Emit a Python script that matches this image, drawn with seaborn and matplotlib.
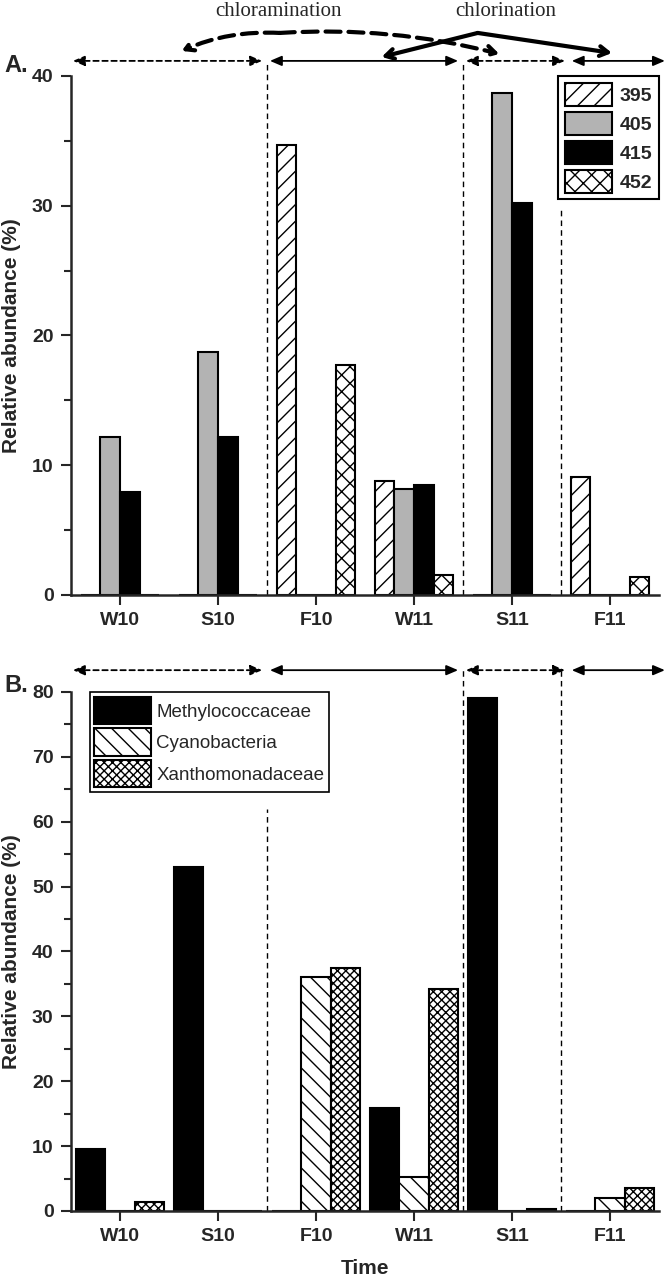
import numpy as np
import pandas as pd
import matplotlib
matplotlib.use("Agg")
import matplotlib.pyplot as plt
import matplotlib.transforms as mtransforms
from matplotlib.patches import Patch
from matplotlib.ticker import MultipleLocator
import seaborn as sns

# ---- data ----
times = ["W10", "S10", "F10", "W11", "S11", "F11"]

a_series = ["395", "405", "415", "452"]
a_395 = [0, 0, 34.7, 8.8, 0, 9.1]
a_405 = [12.2, 18.7, 0, 8.2, 38.7, 0]
a_415 = [7.9, 12.2, 0, 8.5, 30.2, 0]
a_452 = [0, 0, 17.7, 1.5, 0, 1.4]

b_series = ["Methylococcaceae", "Cyanobacteria", "Xanthomonadaceae"]
b_methylo = [9.6, 53.0, 0, 15.9, 79.0, 0]
b_cyano = [0, 0, 36.0, 5.2, 0, 2.0]
b_xantho = [1.4, 0, 37.5, 34.2, 0.3, 3.5]

a_colors = {"395": "white", "405": "#b3b3b3", "415": "black", "452": "white"}
a_hatches = ["//", "", "", "xx"]
b_colors = {"Methylococcaceae": "black", "Cyanobacteria": "white", "Xanthomonadaceae": "white"}
b_hatches = ["", "\\\\", "xxxx"]

df_a = pd.DataFrame({
    "time": times * 4,
    "series": np.repeat(a_series, len(times)),
    "value": a_395 + a_405 + a_415 + a_452,
})
df_b = pd.DataFrame({
    "time": times * 3,
    "series": np.repeat(b_series, len(times)),
    "value": b_methylo + b_cyano + b_xantho,
})

sns.set_style("ticks")
plt.rcParams["font.family"] = ["Liberation Sans", "DejaVu Sans"]
plt.rcParams["hatch.linewidth"] = 1.0

fig = plt.figure(figsize=(6.66, 12.85), dpi=100)
ax_a = fig.add_axes([0.1066, 0.5370, 0.8829, 0.4039])
ax_b = fig.add_axes([0.1066, 0.0576, 0.8829, 0.4039])


def draw_bars(ax, df, order, colors, hatches, width):
    sns.barplot(data=df, x="time", y="value", hue="series", order=times,
                hue_order=order, palette=colors, edgecolor="black",
                linewidth=1.5, width=width, errorbar=None, legend=False, ax=ax)
    for cont, h in zip(ax.containers, hatches):
        for bar in cont:
            bar.set_hatch(h)


def style_axis(ax, top, step):
    ax.set_xlim(-0.5, 5.5)
    ax.set_ylim(0, top)
    ax.yaxis.set_major_locator(MultipleLocator(step))
    ax.yaxis.set_minor_locator(MultipleLocator(step / 2))
    for s in ["top", "right"]:
        ax.spines[s].set_visible(False)
    for s in ["left", "bottom"]:
        ax.spines[s].set_linewidth(1.8)
    ax.tick_params(axis="both", which="major", direction="out", length=7.5,
                   width=1.5, pad=5, labelsize=14)
    ax.tick_params(axis="y", which="minor", direction="out", length=5, width=1.5)
    for lab in ax.get_xticklabels() + ax.get_yticklabels():
        lab.set_fontweight("bold")
    ax.set_ylabel("Relative abundance (%)", fontsize=15, fontweight="bold")
    ax.yaxis.set_label_coords(-0.085, 0.5)


def period_arrows(ax, y_row):
    trans = mtransforms.blended_transform_factory(ax.transData, ax.transAxes)
    segs = [(-0.48, 1.45, (0, (3, 2))), (1.53, 3.45, "-"),
            (3.53, 4.54, (0, (3, 2))), (4.61, 5.56, "-")]
    for x0, x1, ls in segs:
        ax.annotate("", xy=(x1, y_row), xytext=(x0, y_row), xycoords=trans,
                    annotation_clip=False,
                    arrowprops=dict(arrowstyle="<|-|>,head_length=0.7,head_width=0.3",
                                    lw=1.3, ls=ls, color="black",
                                    shrinkA=0, shrinkB=0))
    return trans


# ---- panel A ----
draw_bars(ax_a, df_a, a_series, a_colors, a_hatches, 0.8)
style_axis(ax_a, 40, 10)
ax_a.set_xlabel("")
trans_a = period_arrows(ax_a, 1.029)
for x, y1 in [(1.5, 1.029), (3.5, 1.029)]:
    ax_a.axvline(x, 0, y1, color="black", lw=1, ls=(0, (4, 3)), clip_on=False)
ax_a.axvline(4.5, 0, 0.746, color="black", lw=1, ls=(0, (4, 3)))

fa = lambda ypx: (595 - ypx) / 519.0
curve = dict(lw=3, color="black", shrinkA=0, shrinkB=0)
for end, rad in [((0.63, fa(51)), 0.12), ((3.87, fa(54)), -0.08)]:
    ax_a.annotate("", xy=end, xytext=(1.63, fa(33)), xycoords=trans_a,
                  annotation_clip=False,
                  arrowprops=dict(arrowstyle="->,head_length=0.6,head_width=0.35",
                                  ls=(0, (3.6, 1.9)),
                                  connectionstyle="arc3,rad=%s" % rad, **curve))
for end in [(2.67, fa(57)), (5.02, fa(53))]:
    ax_a.annotate("", xy=end, xytext=(3.65, fa(33)), xycoords=trans_a,
                  annotation_clip=False,
                  arrowprops=dict(arrowstyle="->,head_length=0.6,head_width=0.35",
                                  ls="-", **curve))

fig.text(278 / 666, 1 - 12 / 1285, "chloramination", family="Liberation Serif",
         fontsize=15, ha="center", va="center")
fig.text(506 / 666, 1 - 12 / 1285, "chlorination", family="Liberation Serif",
         fontsize=15, ha="center", va="center")
fig.text(0.006, 1 - 66 / 1285, "A.", fontsize=17, fontweight="bold", va="center")

handles_a = [Patch(facecolor=a_colors[s], edgecolor="black", hatch=h, lw=1.5)
             for s, h in zip(a_series, a_hatches)]
leg_a = ax_a.legend(handles_a, a_series, loc="upper right", bbox_to_anchor=(1.0, 1.0),
                    borderaxespad=0, fontsize=14, handlelength=2.4, handleheight=1.45,
                    labelspacing=0.3, handletextpad=0.4, fancybox=False,
                    framealpha=1, edgecolor="black", borderpad=0.35)
leg_a.get_frame().set_linewidth(1.5)
for t in leg_a.get_texts():
    t.set_fontweight("bold")

# ---- panel B ----
draw_bars(ax_b, df_b, b_series, b_colors, b_hatches, 0.9)
style_axis(ax_b, 80, 10)
ax_b.set_xlabel("Time", fontsize=15, fontweight="bold", labelpad=10)
period_arrows(ax_b, 1.042)
ax_b.axvline(1.5, 0, 0.775, color="black", lw=1, ls=(0, (4, 3)))
for x in [3.5, 4.5]:
    ax_b.axvline(x, 0, 1.042, color="black", lw=1, ls=(0, (4, 3)), clip_on=False)
fig.text(0.006, 1 - 686 / 1285, "B.", fontsize=17, fontweight="bold", va="center")

handles_b = [Patch(facecolor=b_colors[s], edgecolor="black", hatch=h, lw=1.5)
             for s, h in zip(b_series, b_hatches)]
leg_b = ax_b.legend(handles_b, b_series, loc="upper left", bbox_to_anchor=(0.032, 1.0),
                    borderaxespad=0, fontsize=13.5, handlelength=3.0, handleheight=1.9,
                    labelspacing=0.2, handletextpad=0.3, fancybox=False,
                    framealpha=1, edgecolor="black", borderpad=0.25)
leg_b.get_frame().set_linewidth(1.2)

fig.savefig("out.png", dpi=100)
